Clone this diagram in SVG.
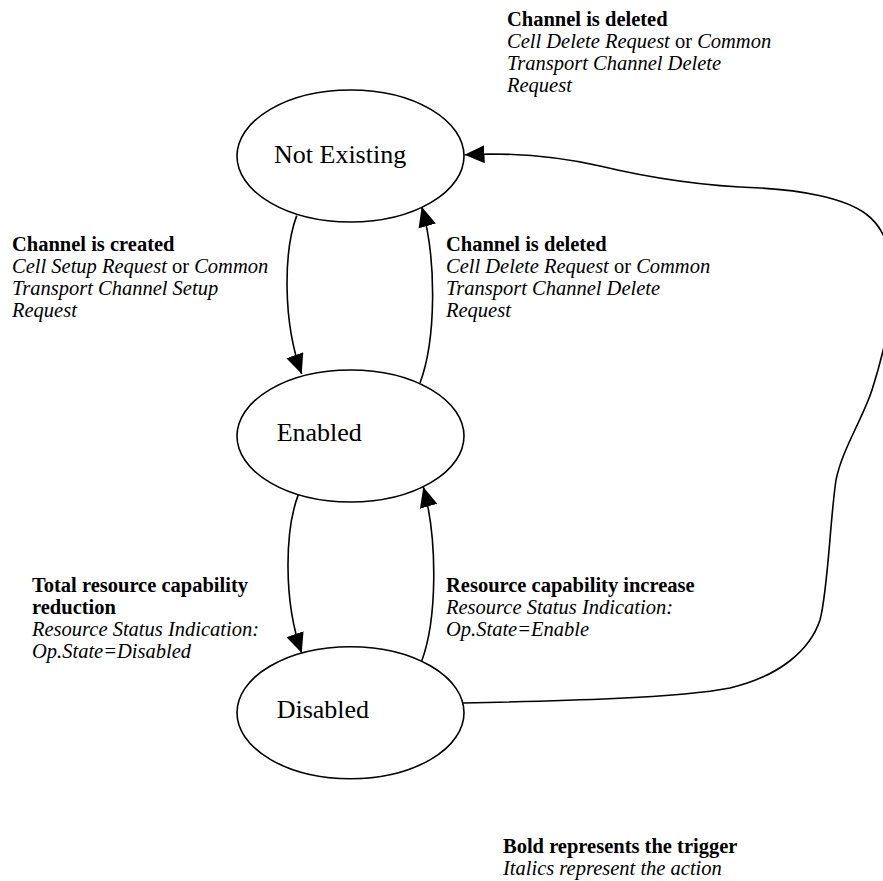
<svg xmlns="http://www.w3.org/2000/svg" width="883" height="881" viewBox="0 0 883 881">
<style>
.state{fill:#fff;stroke:#000;stroke-width:1.6}
.sname{font-family:"Liberation Serif","Times New Roman",serif;font-size:26px;fill:#000}
.edge{fill:none;stroke:#000;stroke-width:1.6;marker-end:url(#ah)}
.lbl{font-family:"Liberation Serif","Times New Roman",serif;font-size:20.5px;fill:#000}
.b{font-weight:bold}
.i{font-style:italic}
</style>
<defs>
<marker id="ah" markerUnits="userSpaceOnUse" markerWidth="21" markerHeight="19" refX="20" refY="9" orient="auto">
<path d="M0,0 L20,9 L0,18 Z" fill="#000"/>
</marker>
</defs>
<rect width="883" height="881" fill="#fff"/>
<g id="connectors">
<path id="e1" class="edge" d="M296.7,215.6 C284,250 282,320 301.7,374"/>
<path id="e2" class="edge" d="M420,383 C436,340 437,260 421.7,206.7"/>
<path id="e3" class="edge" d="M298.3,494.6 C285,530 283,600 301.7,653"/>
<path id="e4" class="edge" d="M421.7,661 C437,620 438,540 423.3,487"/>
<path id="e5" class="edge" d="M463,703 C560,701 680,698 730,688 C780,676 810,650 820,620 C828,590 830,520 836,480 C842,450 862,420 872,390 C880,365 895,310 893,280 C891,250 885,228 866,214 C845,198 800,190 760,188 C700,186 650,178 600,166 C560,157 520,154 490,154 L464.5,154.8"/>
</g>
<g id="not-existing">
<ellipse class="state" cx="350.5" cy="156" rx="113.5" ry="66"/>
<text class="sname" x="274" y="163">Not Existing</text>
</g>
<g id="enabled">
<ellipse class="state" cx="350.5" cy="436" rx="113.5" ry="66"/>
<text class="sname" x="276.7" y="441">Enabled</text>
</g>
<g id="disabled">
<ellipse class="state" cx="350.5" cy="712.7" rx="113.5" ry="66"/>
<text class="sname" x="276.7" y="718">Disabled</text>
</g>
<g id="label-top" class="lbl">
<text x="507" y="26" class="b">Channel is deleted</text>
<text x="507" y="48"><tspan class="i">Cell Delete Request</tspan> or <tspan class="i">Common</tspan></text>
<text x="507" y="70" class="i">Transport Channel Delete</text>
<text x="507" y="92" class="i">Request</text>
</g>
<g id="label-created" class="lbl">
<text x="12" y="251" class="b">Channel is created</text>
<text x="12" y="273"><tspan class="i">Cell Setup Request</tspan> or <tspan class="i">Common</tspan></text>
<text x="12" y="295" class="i">Transport Channel Setup</text>
<text x="12" y="317" class="i">Request</text>
</g>
<g id="label-deleted" class="lbl">
<text x="446" y="251" class="b">Channel is deleted</text>
<text x="446" y="273"><tspan class="i">Cell Delete Request</tspan> or <tspan class="i">Common</tspan></text>
<text x="446" y="295" class="i">Transport Channel Delete</text>
<text x="446" y="317" class="i">Request</text>
</g>
<g id="label-reduction" class="lbl">
<text x="32" y="592" class="b">Total resource capability</text>
<text x="32" y="614" class="b">reduction</text>
<text x="32" y="636" class="i">Resource Status Indication:</text>
<text x="32" y="658" class="i">Op.State=Disabled</text>
</g>
<g id="label-increase" class="lbl">
<text x="446" y="592" class="b">Resource capability increase</text>
<text x="446" y="614" class="i">Resource Status Indication:</text>
<text x="446" y="636" class="i">Op.State=Enable</text>
</g>
<g id="legend" class="lbl">
<text x="503" y="853" class="b">Bold represents the trigger</text>
<text x="503" y="875" class="i">Italics represent the action</text>
</g>
</svg>
